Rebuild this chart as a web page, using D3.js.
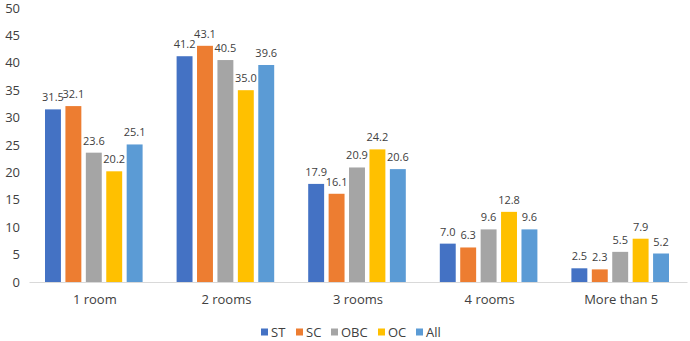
<!DOCTYPE html>
<html>
<head>
<meta charset="utf-8">
<script src="https://cdn.jsdelivr.net/npm/d3@7"></script>
<style>
  body { margin: 0; background: #fff; }
  text { font-family: "Open Sans", "Liberation Sans", sans-serif; fill: #404040; }
</style>
</head>
<body>
<div id="chart"></div>
<script>
// categories and series
const categories = ["1 room", "2 rooms", "3 rooms", "4 rooms", "More than 5"];
const seriesNames = ["ST", "SC", "OBC", "OC", "All"];
const seriesColors = ["#4472C4", "#ED7D31", "#A5A5A5", "#FFC000", "#5B9BD5"];

const stValues = [31.5, 41.2, 17.9, 7.0, 2.5];
const scValues = [32.1, 43.1, 16.1, 6.3, 2.3];
const obcValues = [23.6, 40.5, 20.9, 9.6, 5.5];
const ocValues = [20.2, 35.0, 24.2, 12.8, 7.9];
const allValues = [25.1, 39.6, 20.6, 9.6, 5.2];
const yTicks = [0, 5, 10, 15, 20, 25, 30, 35, 40, 45, 50];

const seriesValues = [stValues, scValues, obcValues, ocValues, allValues];

// build a flat table for the bars
const rows = [];
categories.forEach((c, i) => {
    seriesNames.forEach((s, j) => {
        rows.push({ category: c, series: s, value: seriesValues[j][i] });
    });
});

const width = 690, height = 341;
const margins = { top: 8, right: 3, bottom: 59, left: 29 };
const plotWidth = width - margins.left - margins.right;
const plotHeight = height - margins.top - margins.bottom;

const svg = d3.select("#chart").append("svg")
    .attr("width", width)
    .attr("height", height);

const plot = svg.append("g")
    .attr("transform", `translate(${margins.left},${margins.top})`);

const x0 = d3.scaleBand()
    .domain(categories)
    .range([0, plotWidth]);

const x1 = d3.scaleBand()
    .domain(seriesNames)
    .range([16, x0.bandwidth() - 18])
    .paddingInner(0.22);

const y = d3.scaleLinear()
    .domain([0, 50])
    .range([plotHeight, 0]);

const color = d3.scaleOrdinal().domain(seriesNames).range(seriesColors);

// y axis labels only
const yAxis = plot.append("g")
    .call(d3.axisLeft(y).tickValues(yTicks).tickSize(0).tickPadding(9));
yAxis.select(".domain").remove();
yAxis.selectAll("text")
    .style("font-size", "13px")
    .attr("fill", "#404040");

// bars
plot.selectAll(".bar")
    .data(rows)
    .enter().append("rect")
    .attr("class", "bar")
    .attr("x", d => x0(d.category) + x1(d.series))
    .attr("width", x1.bandwidth())
    .attr("y", d => y(d.value))
    .attr("height", d => plotHeight - y(d.value))
    .attr("fill", d => color(d.series));

// value labels
plot.selectAll(".bar-label")
    .data(rows)
    .enter().append("text")
    .attr("class", "bar-label")
    .attr("x", d => x0(d.category) + x1(d.series) + x1.bandwidth() / 2)
    .attr("y", d => y(d.value) - 8)
    .attr("text-anchor", "middle")
    .style("font-size", "11px")
    .text(d => d.value.toFixed(1));

// x axis
const xAxis = plot.append("g")
    .attr("transform", `translate(0,${plotHeight})`)
    .call(d3.axisBottom(x0).tickSize(0).tickPadding(13));
xAxis.select(".domain").attr("stroke", "#D9D9D9").attr("stroke-width", 1);
xAxis.selectAll("text")
    .style("font-size", "13px")
    .attr("fill", "#404040");

// legend
const legendItemWidths = [35, 35, 47, 38, 30];
const legend = svg.append("g")
    .attr("transform", "translate(261,332)");
let lx = 0;
seriesNames.forEach((s, i) => {
    const g = legend.append("g").attr("transform", `translate(${lx},0)`);
    g.append("rect")
        .attr("x", 0)
        .attr("y", -3.5)
        .attr("width", 7)
        .attr("height", 7)
        .attr("fill", color(s));
    g.append("text")
        .attr("x", 10)
        .attr("y", 0)
        .attr("dy", "0.35em")
        .style("font-size", "13px")
        .text(s);
    lx += legendItemWidths[i];
});
</script>
</body>
</html>
